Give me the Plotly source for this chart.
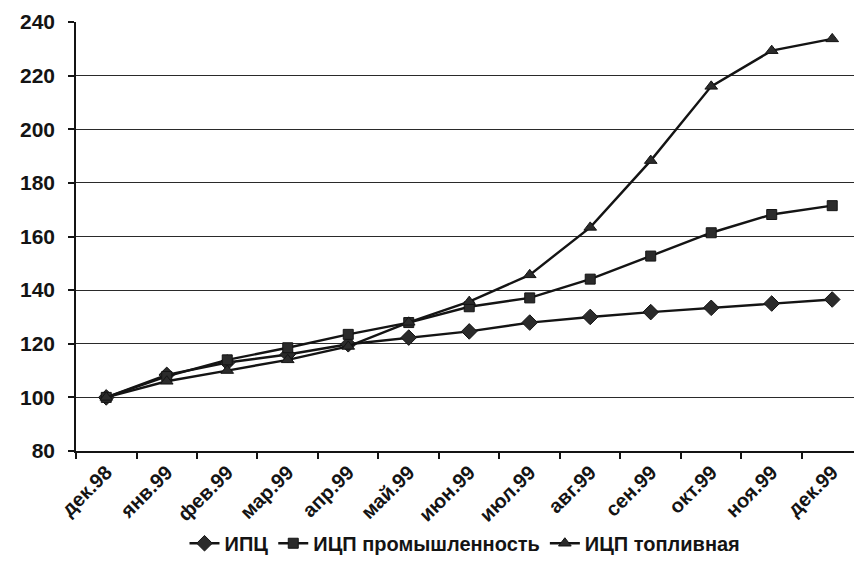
import plotly.graph_objects as go

# Месяцы (декабрь 1998 = 100)
months = ["дек.98", "янв.99", "фев.99", "мар.99", "апр.99", "май.99", "июн.99",
          "июл.99", "авг.99", "сен.99", "окт.99", "ноя.99", "дек.99"]

# Индекс потребительских цен
ipc = [100, 108.4, 113.0, 116.0, 119.8, 122.3, 124.6, 127.9, 130.0, 131.8, 133.4, 135.0, 136.5]
# Индекс цен производителей: промышленность
icp_prom = [100, 107.8, 114.0, 118.5, 123.5, 127.9, 133.8, 137.1, 144.1, 152.7, 161.4, 168.2, 171.5]
# Индекс цен производителей: топливная промышленность
icp_topl = [100, 106.0, 110.0, 114.0, 119.0, 128.0, 135.7, 145.7, 163.4, 188.3, 216.0, 229.3, 233.7]

y_ticks = [80, 100, 120, 140, 160, 180, 200, 220, 240]

FONT = "Liberation Sans, Arial, sans-serif"
INK = "#141414"

series = [
    ("ИПЦ", ipc, "diamond", 12),
    ("ИЦП промышленность", icp_prom, "square", 10),
    ("ИЦП топливная", icp_topl, "triangle-up", 11),
]

fig = go.Figure()
for name, vals, sym, size in series:
    fig.add_trace(go.Scatter(
        x=months, y=vals, name=name, mode="lines+markers",
        line=dict(color=INK, width=2.4),
        marker=dict(symbol=sym, size=size, color="#2b2b2b",
                    line=dict(color=INK, width=1)),
    ))

fig.update_layout(
    width=854, height=563,
    margin=dict(l=76, r=0, t=22, b=108),
    paper_bgcolor="white", plot_bgcolor="white",
    font=dict(family=FONT, color=INK),
    showlegend=True,
    legend=dict(orientation="h", x=0.5, xanchor="center", y=-0.215, yanchor="middle",
                font=dict(size=20, family=FONT, color=INK, weight="bold"),
                itemwidth=30, tracegroupgap=0, bgcolor="rgba(0,0,0,0)"),
    xaxis=dict(
        type="category", categoryorder="array", categoryarray=months,
        range=[-0.5, 12.36], tickangle=-45,
        tickfont=dict(size=20, family=FONT, color=INK, weight="bold"),
        showline=True, linecolor=INK, linewidth=1.6,
        ticks="outside", tickson="boundaries", ticklen=6, tickcolor=INK, tickwidth=1.6,
        showgrid=False, zeroline=False,
    ),
    yaxis=dict(
        range=[80, 240], tickvals=y_ticks,
        tickfont=dict(size=21, family=FONT, color=INK, weight="bold"),
        showline=True, linecolor=INK, linewidth=1.6,
        ticks="outside", ticklen=6, tickcolor=INK, tickwidth=1.6,
        ticklabelstandoff=9,
        showgrid=True, gridcolor="#2a2a2a", gridwidth=1.4, zeroline=False,
    ),
)

fig.write_html("out.html")
